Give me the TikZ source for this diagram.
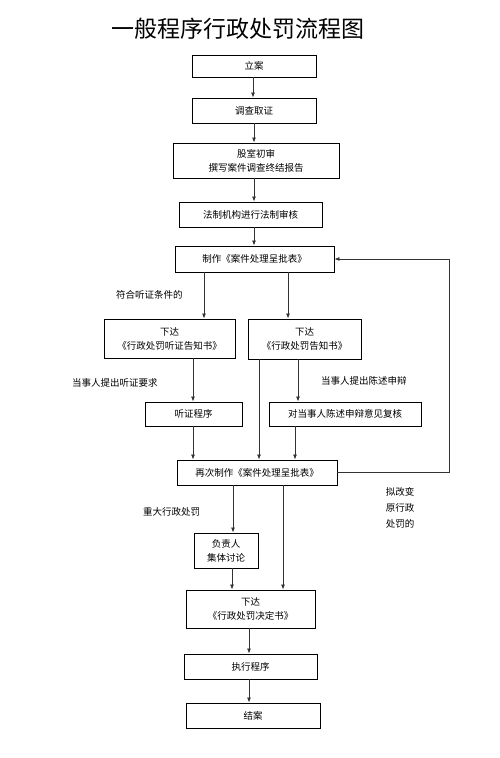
\documentclass[tikz,border=0pt]{standalone}
\usepackage{fontspec}
\setmainfont{Noto Sans CJK SC}
\usetikzlibrary{arrows.meta}

\begin{document}
\begin{tikzpicture}
[x=1pt,y=-1pt,
  boxDecorate/.style={draw,line width=0.9pt,inner sep=1pt,align=center,
    font=\fontsize{9.5}{14}\selectfont},%
  lineDecorate/.style={-{Latex[length=5pt,width=4pt]},line width=0.8pt,black!80},%
  labelDecorate/.style={anchor=west,inner sep=0pt,font=\fontsize{9.5}{12}\selectfont}]
\useasboundingbox (0,0) rectangle (499,758);
%% title
\node (title) at (238,29) {\fontsize{23}{26}\selectfont 一般程序行政处罚流程图};
%% boxes
\foreach \nodename/\x/\y/\w/\h/\txt in {
  lian/254/66/124/22/立案,
  diaocha/254/110.5/124/25/调查取证,
  chushen/256/160.5/166/35/{股室初审\\撰写案件调查终结报告},
  shenhe/250.5/214.5/143/25/法制机构进行法制审核,
  chengpi/254.5/259/159/26/制作《案件处理呈批表》,
  tzgaozhi/169.5/338.5/131/39/{下达\\《行政处罚听证告知书》},
  gaozhi/304.5/339/113/40/{下达\\《行政处罚告知书》},
  tingzheng/193.5/414/97/24/听证程序,
  fuhe/345/414/152/24/对当事人陈述申辩意见复核,
  zaici/257/472.5/160/25/再次制作《案件处理呈批表》,
  taolun/226/550.5/64/35/{负责人\\集体讨论},
  jueding/250.5/609/129/38/{下达\\《行政处罚决定书》},
  zhixing/250.5/666.5/133/25/执行程序,
  jiean/253/715.5/134/25/结案} {
  \node (\nodename) at (\x,\y) [boxDecorate,minimum width=\w*1pt,minimum height=\h*1pt] {\txt};
}
%% labels
\node (lbtzcond) at (116,295) [labelDecorate] {符合听证条件的};
\node (lbtzreq) at (72,383) [labelDecorate] {当事人提出听证要求};
\node (lbshenbian) at (321,381) [labelDecorate] {当事人提出陈述申辩};
\node (lbzhongda) at (143,512) [labelDecorate] {重大行政处罚};
\node (lbgaibian) at (400,508) [align=center,font=\fontsize{9.5}{16}\selectfont] {拟改变\\原行政\\处罚的};
%% arrows
\foreach \startnode/\endnode/\x in {lian/diaocha/253, diaocha/chushen/254,
  chushen/shenhe/254, shenhe/chengpi/254, chengpi/tzgaozhi/204,
  chengpi/gaozhi/288, tzgaozhi/tingzheng/193, gaozhi/zaici/259,
  gaozhi/fuhe/298, tingzheng/zaici/193, fuhe/zaici/295,
  zaici/taolun/233, zaici/jueding/283, taolun/jueding/232,
  jueding/zhixing/249, zhixing/jiean/249} {
  \draw[lineDecorate] (\x,0 |- \startnode.south) -- (\x,0 |- \endnode.north);
}
\draw[lineDecorate] (zaici.east) -| (449,0 |- chengpi.east) -- (chengpi.east);
\end{tikzpicture}
\end{document}
